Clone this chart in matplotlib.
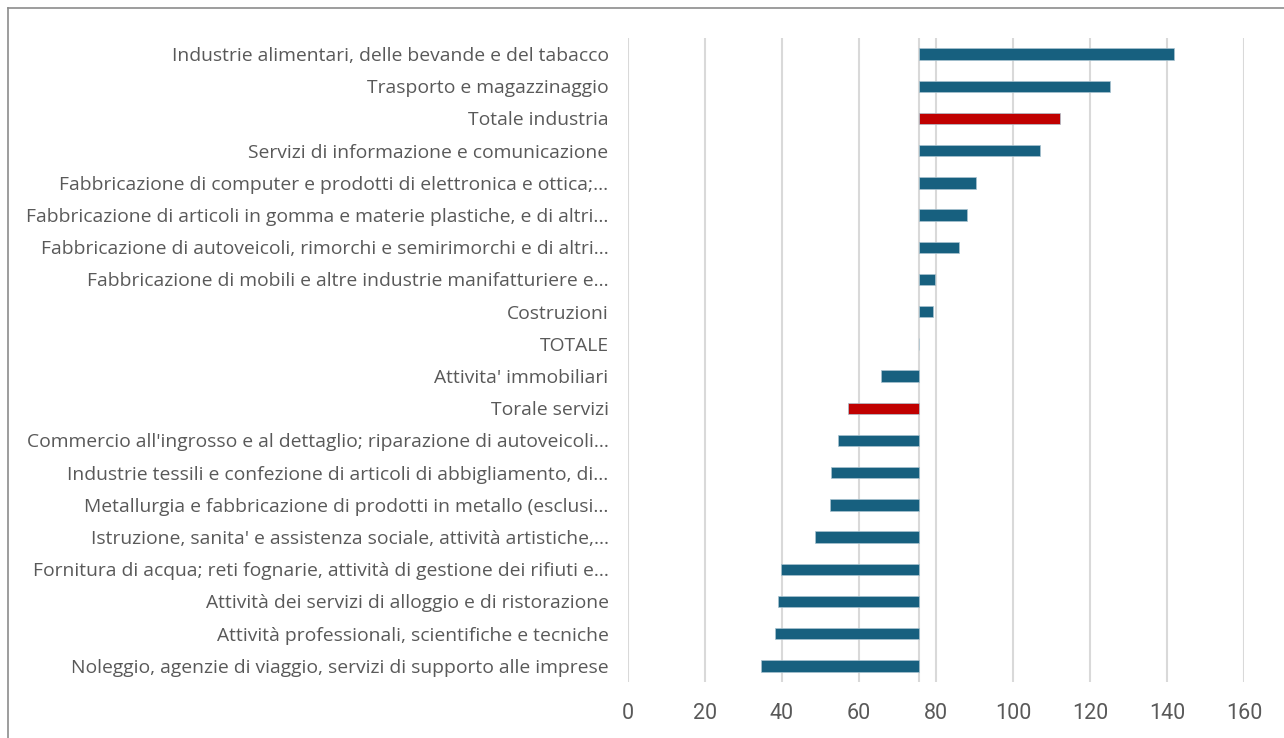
import matplotlib.pyplot as plt
from matplotlib.lines import Line2D

# categories listed top to bottom, as shown in the chart
categorie = [
    "Industrie alimentari, delle bevande e del tabacco",
    "Trasporto e magazzinaggio",
    "Totale industria",
    "Servizi di informazione e comunicazione",
    "Fabbricazione di computer e prodotti di elettronica e ottica;...",
    "Fabbricazione di articoli in gomma e materie plastiche, e di altri...",
    "Fabbricazione di autoveicoli, rimorchi e semirimorchi e di altri...",
    "Fabbricazione di mobili e altre industrie manifatturiere e...",
    "Costruzioni",
    "TOTALE",
    "Attivita' immobiliari",
    "Torale servizi",
    "Commercio all'ingrosso e al dettaglio; riparazione di autoveicoli...",
    "Industrie tessili e confezione di articoli di abbigliamento, di...",
    "Metallurgia e fabbricazione di prodotti in metallo (esclusi...",
    "Istruzione, sanita' e assistenza sociale, attività artistiche,...",
    "Fornitura di acqua; reti fognarie, attività di gestione dei rifiuti e...",
    "Attività dei servizi di alloggio e di ristorazione",
    "Attività professionali, scientifiche e tecniche",
    "Noleggio, agenzie di viaggio, servizi di supporto alle imprese",
]
valori = [141.7, 125.3, 112.3, 107.1, 90.5, 88.1, 86.1, 79.8, 79.2, 75.6,
          65.6, 57.2, 54.5, 52.8, 52.5, 48.6, 39.7, 39.0, 38.3, 34.5]
totale = 75.6  # bars start from the TOTALE value
evidenziati = ["Totale industria", "Torale servizi"]

blu = "#17607f"
rosso = "#c00000"
grigio = "#595959"

plt.rcParams['font.family'] = ['Open Sans', 'DejaVu Sans']

fig = plt.figure(figsize=(12.84, 7.38), dpi=100)
ax = fig.add_axes([628 / 1284, 1 - 682 / 738, 616 / 1284, 644 / 738])

colori = [rosso if c in evidenziati else blu for c in categorie]
y = range(len(categorie))
ax.barh(y, [v - totale for v in valori], left=totale, height=0.35,
        color=colori, edgecolor="#a9c3d0", linewidth=0.5, zorder=3)
ax.axvline(totale, color="#d9d9d9", lw=1.5, zorder=2)

ax.set_xlim(0, 160)
ax.set_ylim(-0.5, len(categorie) - 0.5)
ax.invert_yaxis()
ax.set_yticks(list(y))
ax.set_yticklabels(categorie)
ax.set_xticks(range(0, 161, 20))
ax.grid(axis="x", color="#d9d9d9", lw=1.5, zorder=0)
ax.set_axisbelow(True)
for s in ax.spines.values():
    s.set_visible(False)
ax.tick_params(axis="y", length=0, pad=14, labelsize=13.9, labelcolor=grigio)
ax.tick_params(axis="x", length=0, pad=15, labelsize=15.5, labelcolor=grigio)
for t in ax.get_xticklabels():
    t.set_family(['Roboto', 'DejaVu Sans'])

# outer chart frame
fig.add_artist(Line2D([8 / 1284, 8 / 1284], [0, 1 - 8 / 738], color="#8c8c8c", lw=1.2))
fig.add_artist(Line2D([8 / 1284, 1], [1 - 8 / 738, 1 - 8 / 738], color="#8c8c8c", lw=1.2))

fig.savefig("out.png", dpi=100)
